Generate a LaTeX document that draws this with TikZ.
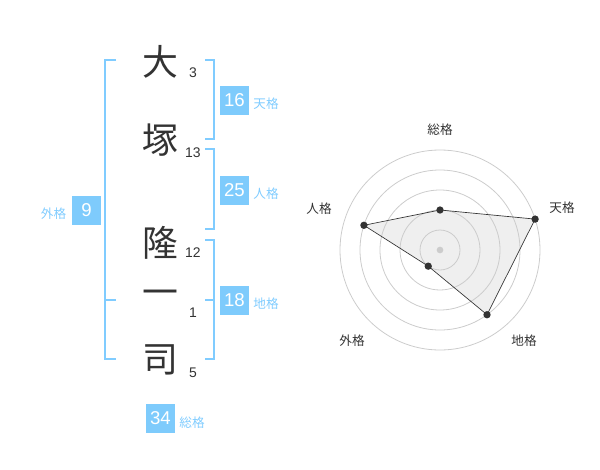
\documentclass[tikz,border=0pt]{standalone}
\usepackage{fontspec}
\setmainfont{Liberation Sans}
\newfontfamily\jp{Noto Sans CJK JP}
\definecolor{lb}{HTML}{80CCFF}
\definecolor{bx}{HTML}{7ECBFC}
\definecolor{dk}{HTML}{333333}
\definecolor{ringc}{HTML}{CCCCCC}
\definecolor{polyf}{HTML}{EFEFEF}
\begin{document}
\begin{tikzpicture}[x=0.75bp,y=-0.75bp,
  kanji/.style={font=\jp\fontsize{27}{27}\selectfont, text=dk, inner sep=0pt},
  strokenum/.style={font=\fontsize{10.5}{12}\selectfont, text=dk, inner sep=0pt},
  numbox/.style={fill=bx, text=white, minimum size=21.75bp, inner sep=0pt, font=\fontsize{14}{14}\selectfont},
  lbl/.style={text=lb, font=\jp\fontsize{9.5}{10}\selectfont, inner sep=0pt},
  bracket/.style={draw=lb, line width=1.5bp},
  ring/.style={draw=ringc, line width=0.6bp},
  datapt/.style={circle, fill=dk, inner sep=0pt, minimum size=5.5bp},
  axl/.style={font=\jp\fontsize{9.5}{10}\selectfont, text=dk, inner sep=0pt},
  polyfill/.style={fill=polyf},
  polyline/.style={draw=dk, line width=0.5bp}
]
\useasboundingbox (0,0) rectangle (600,470);
% name characters
\node[kanji] (k1) at (160,62) {大};
\node[kanji] (k2) at (160,140) {塚};
\node[kanji] (k3) at (160,243) {隆};
\node[kanji] (k4) at (160,298) {一};
\node[kanji] (k5) at (160,360) {司};
% stroke counts
\node[strokenum] (s1) at (193,73) {3};
\node[strokenum] (s2) at (193,153) {13};
\node[strokenum] (s3) at (193,253) {12};
\node[strokenum] (s4) at (193,313) {1};
\node[strokenum] (s5) at (193,373) {5};
% brackets
\draw[bracket] (116,60) -- (105,60) -- (105,359) -- (116,359);
\draw[bracket] (105,300) -- (116,300);
\draw[bracket] (205,60) -- (214,60) -- (214,139) -- (205,139);
\draw[bracket] (205,149) -- (214,149) -- (214,229) -- (205,229);
\draw[bracket] (205,240) -- (214,240) -- (214,359) -- (205,359);
\draw[bracket] (205,300) -- (214,300);
% boxes and labels
\node[numbox] (ten) at (234.5,100.5) {16};
\node[lbl] (tenl) at (266,104) {天格};
\node[numbox] (jin) at (234.5,190.5) {25};
\node[lbl] (jinl) at (266,194) {人格};
\node[numbox] (chi) at (234.5,300.5) {18};
\node[lbl] (chil) at (266,304) {地格};
\node[numbox] (gai) at (86.5,210.5) {9};
\node[lbl] (gail) at (53.5,214) {外格};
\node[numbox] (sou) at (160.5,418.5) {34};
\node[lbl] (soul) at (192,423) {総格};
% radar chart
\coordinate (c) at (440,250);
\coordinate (p1) at ([shift={(c)}]-90:40);
\coordinate (p2) at ([shift={(c)}]-18:100);
\coordinate (p3) at ([shift={(c)}]54:80);
\coordinate (p4) at ([shift={(c)}]126:20);
\coordinate (p5) at ([shift={(c)}]-162:80);
\fill[polyfill] (p1) -- (p2) -- (p3) -- (p4) -- (p5) -- cycle;
\foreach \r in {20,40,60,80,100} \draw[ring] (c) circle[radius=\r*0.75bp];
\draw[polyline] (p1) -- (p2) -- (p3) -- (p4) -- (p5) -- cycle;
\node[circle, fill=ringc, inner sep=0pt, minimum size=5bp] (cd) at (c) {};
\foreach \i in {1,...,5} \node[datapt] (d\i) at (p\i) {};
\node[axl] (a1) at (440,130) {総格};
\node[axl] (a2) at (562,208) {天格};
\node[axl] (a3) at (524,341) {地格};
\node[axl] (a4) at (352,341) {外格};
\node[axl] (a5) at (319,209) {人格};
\end{tikzpicture}
\end{document}
